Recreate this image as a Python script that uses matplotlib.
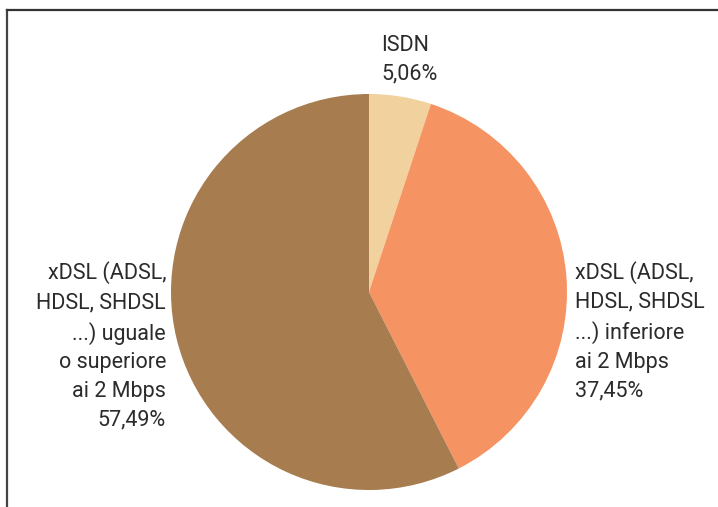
import matplotlib.pyplot as plt
from matplotlib.lines import Line2D

# Dati del grafico
categorie = ['ISDN',
             'xDSL (ADSL,\nHDSL, SHDSL\n...) inferiore\nai 2 Mbps',
             'xDSL (ADSL,\nHDSL, SHDSL\n...) uguale\no superiore\nai 2 Mbps']
valori = [5.06, 37.45, 57.49]
colori = ['#F1D19D', '#F69363', '#A77D50']

plt.rcParams['font.family'] = ['Roboto', 'DejaVu Sans']

fig = plt.figure(figsize=(7.18, 5.07), dpi=100)

# Area della torta (centro circa 369, 292 px; raggio ~198 px)
ax = fig.add_axes([171 / 718, 17 / 507, 396 / 718, 396 / 507])
ax.pie(valori, colors=colori, startangle=90, counterclock=False,
       wedgeprops={'linewidth': 0})
ax.set_xlim(-1, 1)
ax.set_ylim(-1, 1)
ax.set_aspect('equal')
ax.axis('off')

# Etichette con percentuale (virgola decimale)
def etichetta(i):
    return categorie[i] + '\n' + f'{valori[i]:.2f}'.replace('.', ',') + '%'

stile = dict(fontsize=15.5, color='#2b2b2b', linespacing=1.48)
fig.text(381 / 718, 447 / 507, etichetta(0), ha='left', va='center', **stile)
fig.text(575 / 718, 176 / 507, etichetta(1), ha='left', va='center', **stile)
fig.text(166 / 718, 161 / 507, etichetta(2), ha='right', va='center',
         multialignment='right', **stile)

# Cornice: solo bordo superiore e sinistro
fig.add_artist(Line2D([7 / 718, 7 / 718], [0, 497 / 507],
                      color='#444444', linewidth=1.6))
fig.add_artist(Line2D([7 / 718, 1], [497 / 507, 497 / 507],
                      color='#333333', linewidth=1.6))

fig.savefig('out.png', dpi=100)
